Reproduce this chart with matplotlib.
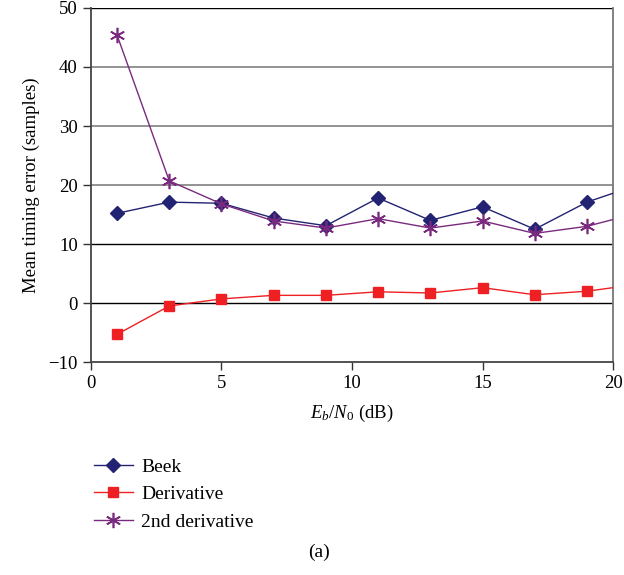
import numpy as np
import matplotlib.pyplot as plt

plt.rcParams['font.family'] = ['Liberation Serif', 'DejaVu Serif']
plt.rcParams['mathtext.fontset'] = 'custom'
plt.rcParams['mathtext.it'] = 'Liberation Serif:italic'
plt.rcParams['mathtext.rm'] = 'Liberation Serif'

ebn0 = [1, 3, 5, 7, 9, 11, 13, 15, 17, 19, 21]
beek = [15.2, 17.1, 16.9, 14.4, 13.1, 17.8, 14.0, 16.3, 12.5, 17.1, 20.1]
deriv = [-5.3, -0.5, 0.7, 1.3, 1.3, 1.9, 1.7, 2.6, 1.4, 2.0, 3.2]
deriv2 = [45.4, 20.7, 16.8, 13.9, 12.7, 14.3, 12.7, 13.9, 11.8, 13.0, 15.3]

fig = plt.figure(figsize=(6.24, 5.75), dpi=100)
ax = fig.add_axes([0.1458, 0.3704, 0.8366, 0.6157])

for yv in [20, 30, 40]:
    ax.axhline(yv, color='#8a8a8a', lw=1.3, zorder=1)
for yv in [0, 10, 50]:
    ax.axhline(yv, color='black', lw=1.0, zorder=1)

l1, = ax.plot(ebn0, beek, color='#232373', lw=1.0, marker='D', ms=7,
              label='Beek', zorder=3)
l2, = ax.plot(ebn0, deriv, color='#ee2024', lw=1.0, marker='s', ms=7.5,
              label='Derivative', zorder=3)
l3, = ax.plot(ebn0, deriv2, color='#7a2a7e', lw=1.0, marker=(6, 2, 0), ms=11,
              mew=1.2, label='2nd derivative', zorder=4)

ax.set_xlim(0, 20)
ax.set_ylim(-10, 50)
ax.set_xticks([0, 5, 10, 15, 20])
ax.set_yticks(range(-10, 51, 10))
ax.set_yticklabels(['\u221210', '0', '10', '20', '30', '40', '50'])
ax.tick_params(direction='out', length=6, width=1, labelsize=13.5, color='#333333')

for s in ['left', 'bottom']:
    ax.spines[s].set_color('#444444')
    ax.spines[s].set_linewidth(1.3)
ax.spines['right'].set_color('#777777')
ax.spines['right'].set_linewidth(1.3)
ax.spines['top'].set_visible(False)

ax.set_xlabel(r'$E_b/N_0$ (dB)', fontsize=13.5, labelpad=8)
ax.set_ylabel('Mean timing error (samples)', fontsize=13.5, labelpad=6)

fig.legend(handles=[l1, l2, l3], loc='upper left', bbox_to_anchor=(0.122, 0.234),
           frameon=False, fontsize=14, handlelength=2.0, labelspacing=0.52,
           handletextpad=0.45)
fig.text(0.512, 0.04, '(a)', fontsize=14, ha='center', va='center')

fig.savefig('out.png', dpi=100)
